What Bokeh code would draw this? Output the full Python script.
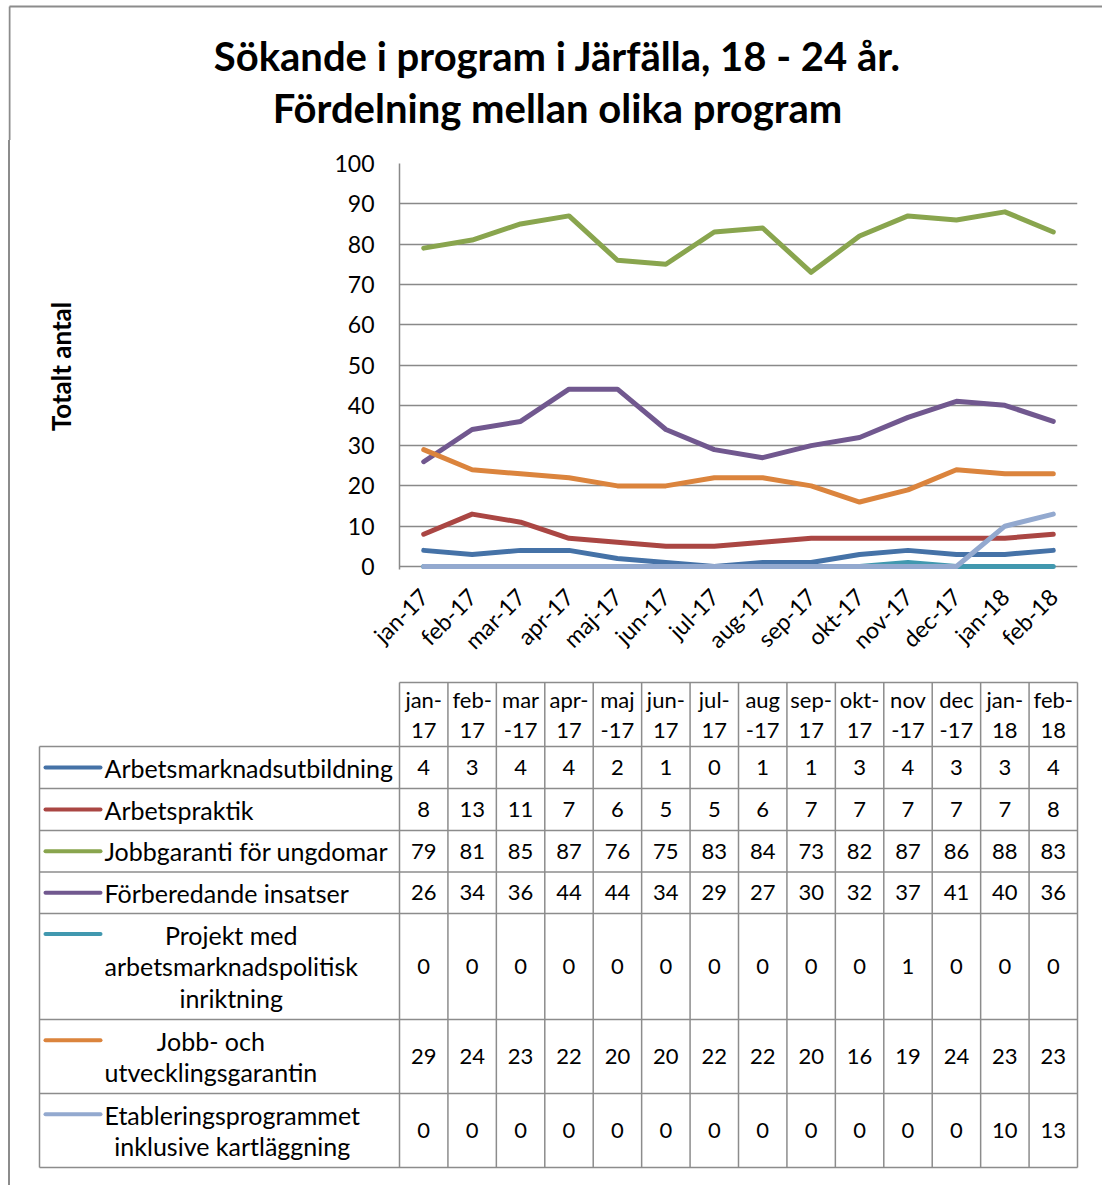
import math
from bokeh.plotting import figure
from bokeh.models import Range1d, FactorRange, FixedTicker
from bokeh.embed import file_html
from bokeh.resources import INLINE
from bokeh.core.properties import value

# ---------------- data ----------------
months = ["jan-17", "feb-17", "mar-17", "apr-17", "maj-17", "jun-17", "jul-17",
          "aug-17", "sep-17", "okt-17", "nov-17", "dec-17", "jan-18", "feb-18"]
header_top_line = ["jan-", "feb-", "mar", "apr-", "maj", "jun-", "jul-",
                   "aug", "sep-", "okt-", "nov", "dec", "jan-", "feb-"]
header_bottom_line = ["17", "17", "-17", "17", "-17", "17", "17",
                      "-17", "17", "17", "-17", "-17", "18", "18"]

series_names = ["Arbetsmarknadsutbildning",
                "Arbetspraktik",
                "Jobbgaranti för ungdomar",
                "Förberedande insatser",
                "Projekt med\narbetsmarknadspolitisk\ninriktning",
                "Jobb- och\nutvecklingsgarantin",
                "Etableringsprogrammet\ninklusive kartläggning"]

arbetsmarknadsutbildning = [4, 3, 4, 4, 2, 1, 0, 1, 1, 3, 4, 3, 3, 4]
arbetspraktik = [8, 13, 11, 7, 6, 5, 5, 6, 7, 7, 7, 7, 7, 8]
jobbgaranti = [79, 81, 85, 87, 76, 75, 83, 84, 73, 82, 87, 86, 88, 83]
forberedande = [26, 34, 36, 44, 44, 34, 29, 27, 30, 32, 37, 41, 40, 36]
projekt = [0, 0, 0, 0, 0, 0, 0, 0, 0, 0, 1, 0, 0, 0]
jobb_och_utveckling = [29, 24, 23, 22, 20, 20, 22, 22, 20, 16, 19, 24, 23, 23]
etablering = [0, 0, 0, 0, 0, 0, 0, 0, 0, 0, 0, 0, 10, 13]

series_values = [arbetsmarknadsutbildning, arbetspraktik, jobbgaranti, forberedande,
                 projekt, jobb_och_utveckling, etablering]

y_ticks = [0, 10, 20, 30, 40, 50, 60, 70, 80, 90, 100]
title_lines = ["Sökande i program i Järfälla, 18 - 24 år.",
               "Fördelning mellan olika program"]
y_label = "Totalt antal"

# ---------------- style / layout ----------------
colors = ["#4572A7", "#AA4643", "#89A54E", "#71588F", "#4198AF", "#DB843D", "#93A9CF"]
FONT = "Lato"
GRID = "#898989"
BORDER = "#8c8c8c"

RIGHT = 1102               # page x of every canvas' right edge
HEAD_BOTTOM = 140
CHART_BOTTOM = 675
PAGE_BOTTOM = 1185
FRAME_L, FRAME_R, FRAME_T, ZERO_Y = 399, 1077, 163, 566
PAD_PX = 3                 # room below the zero line so the lines there are not cut
FRAME_B = ZERO_Y + PAD_PX
y_pad = PAD_PX * (y_ticks[-1] - y_ticks[0]) / (ZERO_Y - FRAME_T)

frame_css = {"border-left": "2px solid #8c8c8c", "margin-left": "8px"}

# ---------------- header (title + outer border) ----------------
HX0 = 8
head = figure(width=RIGHT - HX0, height=HEAD_BOTTOM, x_range=Range1d(HX0, RIGHT),
              y_range=Range1d(HEAD_BOTTOM, 0), x_axis_type=None, y_axis_type=None,
              output_backend="svg", toolbar_location=None, min_border=0,
              styles={"margin-left": "8px"})
head.outline_line_color = None
head.grid.visible = False
head.multi_line([[9, RIGHT], [9, 9]], [[6, 6], [6, HEAD_BOTTOM]],
                line_color=BORDER, line_width=2)
head.text(x=[557, 557], y=[55, 107], text=title_lines, text_font=value(FONT),
          text_font_style="bold", text_font_size="40px", text_align="center",
          text_baseline="middle", text_color="black")

# ---------------- chart ----------------
X0 = 10
p = figure(width=RIGHT - X0, height=CHART_BOTTOM - HEAD_BOTTOM,
           x_range=FactorRange(factors=months),
           y_range=Range1d(y_ticks[0] - y_pad, y_ticks[-1]),
           output_backend="svg", toolbar_location=None,
           min_border_left=FRAME_L - X0, min_border_right=RIGHT - FRAME_R,
           min_border_top=FRAME_T - HEAD_BOTTOM,
           min_border_bottom=CHART_BOTTOM - FRAME_B, styles=frame_css)
p.outline_line_color = None
p.xgrid.visible = False
p.ygrid.grid_line_color = GRID
p.ygrid.grid_line_width = 1.5
p.yaxis.ticker = FixedTicker(ticks=y_ticks)
p.ygrid.ticker = FixedTicker(ticks=y_ticks)

for vals, col in zip(series_values, colors):
    p.line(months, vals, line_width=5, line_color=col, line_join="round", line_cap="round")

for ax in (p.xaxis, p.yaxis):
    ax.axis_line_color = GRID
    ax.axis_line_width = 1.5
    ax.major_tick_out = 0
    ax.major_tick_in = 0
    ax.minor_tick_out = 0
    ax.minor_tick_in = 0
    ax.major_label_text_font = FONT
    ax.major_label_text_font_size = "23px"
    ax.major_label_text_color = "black"

p.xaxis.axis_line_color = None
p.yaxis.major_label_standoff = 25
p.yaxis.axis_label = y_label
p.yaxis.axis_label_text_font = FONT
p.yaxis.axis_label_text_font_style = "bold"
p.yaxis.axis_label_text_font_size = "26px"
p.yaxis.axis_label_text_color = "black"
p.yaxis.axis_label_standoff = 254
p.xaxis.major_label_orientation = math.pi / 4
p.xaxis.major_label_standoff = 26 - PAD_PX

# ---------------- table ----------------
t = figure(width=RIGHT - X0, height=PAGE_BOTTOM - CHART_BOTTOM, x_range=Range1d(X0, RIGHT),
           y_range=Range1d(PAGE_BOTTOM, CHART_BOTTOM), x_axis_type=None,
           y_axis_type=None, output_backend="svg", toolbar_location=None, min_border=0,
           styles=frame_css)
t.outline_line_color = None
t.grid.visible = False

n = len(months)
col_w = (FRAME_R - FRAME_L) / n
col_edges = [FRAME_L + i * col_w for i in range(n + 1)]
col_centers = [FRAME_L + (i + 0.5) * col_w for i in range(n)]
TABLE_HEAD_TOP = 682
row_edges = [746, 788, 830, 871.5, 913, 1019, 1093, 1167]
TABLE_L = 39
LEG_X0, LEG_X1 = 45, 100
LABEL_X = 104
LINE_SP = 32.5

xs, ys = [], []
xs.append([FRAME_L, FRAME_R]); ys.append([TABLE_HEAD_TOP, TABLE_HEAD_TOP])
for yy in row_edges:
    xs.append([TABLE_L, FRAME_R]); ys.append([yy, yy])
xs.append([TABLE_L, TABLE_L]); ys.append([row_edges[0], row_edges[-1]])
for xx in col_edges:
    xs.append([xx, xx]); ys.append([TABLE_HEAD_TOP, row_edges[-1]])
t.multi_line(xs, ys, line_color=BORDER, line_width=1.5)

t.text(x=col_centers, y=[699] * n, text=header_top_line, text_font=value(FONT),
       text_font_size="22px", text_align="center", text_baseline="middle", text_color="black")
t.text(x=col_centers, y=[730] * n, text=header_bottom_line, text_font=value(FONT),
       text_font_size="22px", text_align="center", text_baseline="middle", text_color="black")

row_centers = [(row_edges[i] + row_edges[i + 1]) / 2 for i in range(len(series_names))]
vx, vy, vt = [], [], []
for r, vals in enumerate(series_values):
    for c, v in enumerate(vals):
        vx.append(col_centers[c]); vy.append(row_centers[r]); vt.append(str(v))
t.text(x=vx, y=vy, text=vt, text_font=value(FONT), text_font_size="22px",
       text_align="center", text_baseline="middle", text_color="black")

t.text(x=[LABEL_X] * len(series_names), y=row_centers, text=series_names,
       anchor="center_left", text_align="center", text_baseline="middle",
       text_font=value(FONT), text_font_size="25px", text_color="black",
       text_line_height=1.066)

leg_y = []
for name, yc in zip(series_names, row_centers):
    k = name.count("\n")
    leg_y.append(yc - k * LINE_SP / 2)
t.segment(x0=[LEG_X0] * len(leg_y), y0=leg_y, x1=[LEG_X1] * len(leg_y), y1=leg_y,
          line_color=colors, line_width=4, line_cap="round")

open("out.html", "w").write(file_html([head, p, t], INLINE))
